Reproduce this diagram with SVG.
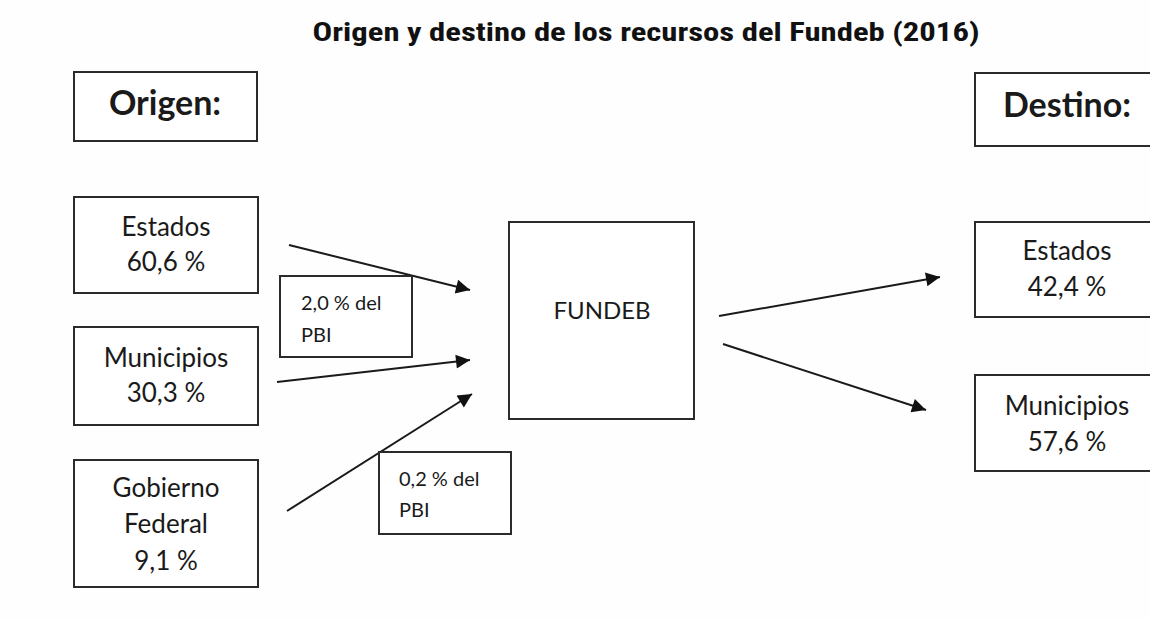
<svg xmlns="http://www.w3.org/2000/svg" width="1150" height="619" viewBox="0 0 1150 619">
<style>
.box{fill:#fff;stroke:#2b2b2b;stroke-width:2}
.t{font-family:Lato,"Open Sans","Liberation Sans",sans-serif;fill:#1a1a1a;text-anchor:middle}
.m{font-size:26px}
.s{font-size:20px;text-anchor:start}
.h{font-size:34px;font-weight:bold}
.ln{stroke:#1a1a1a;stroke-width:2;fill:none;marker-end:url(#ah)}
</style>
<defs>
<marker id="ah" viewBox="0 0 10 10" refX="10" refY="5" markerUnits="userSpaceOnUse" markerWidth="18" markerHeight="14" orient="auto">
<path d="M0,0 L10,5 L0,10 z" fill="#111"/>
</marker>
</defs>
<rect width="1150" height="619" fill="#fefefe"/>
<text x="646" y="41" font-family="'Roboto Condensed',Roboto,'Liberation Sans Narrow','Liberation Sans',sans-serif" font-weight="bold" font-size="25" fill="#111" text-anchor="middle" textLength="667" lengthAdjust="spacingAndGlyphs">Origen y destino de los recursos del Fundeb (2016)</text>
<g id="origen"><rect class="box" x="74" y="72" width="183" height="69"/><text class="t h" x="165" y="115">Origen:</text></g>
<g id="destino"><rect class="box" x="975" y="73" width="190" height="73"/><text class="t h" x="1067" y="117">Destino:</text></g>
<g id="estados"><rect class="box" x="74" y="197" width="184" height="96"/><text class="t m" x="166" y="236">Estados</text><text class="t m" x="166" y="271">60,6 %</text></g>
<g id="municipios"><rect class="box" x="74" y="327" width="184" height="98"/><text class="t m" x="166" y="367">Municipios</text><text class="t m" x="166" y="402">30,3 %</text></g>
<g id="gobierno"><rect class="box" x="74" y="460" width="184" height="127"/><text class="t m" x="166" y="497">Gobierno</text><text class="t m" x="166" y="533">Federal</text><text class="t m" x="166" y="570">9,1 %</text></g>
<g id="fundeb"><rect class="box" x="509" y="222" width="185" height="197"/><text class="t" font-size="24" x="602" y="319">FUNDEB</text></g>
<g id="dest-estados"><rect class="box" x="975" y="222" width="190" height="95"/><text class="t m" x="1067" y="260">Estados</text><text class="t m" x="1067" y="296">42,4 %</text></g>
<g id="dest-municipios"><rect class="box" x="975" y="375" width="190" height="96"/><text class="t m" x="1067" y="415">Municipios</text><text class="t m" x="1067" y="451">57,6 %</text></g>
<g id="connectors">
<line class="ln" x1="289" y1="245" x2="470" y2="290"/>
<line class="ln" x1="277" y1="382" x2="470" y2="360"/>
<line class="ln" x1="287" y1="511" x2="472" y2="394"/>
<line class="ln" x1="719" y1="316" x2="940" y2="277"/>
<line class="ln" x1="723" y1="344" x2="926" y2="410"/>
</g>
<g id="pbi-1"><rect class="box" x="280" y="276" width="132" height="81"/><text class="t s" x="301" y="310">2,0 % del</text><text class="t s" x="301" y="342">PBI</text></g>
<g id="pbi-2"><rect class="box" x="379" y="452" width="132" height="82"/><text class="t s" x="399" y="486">0,2 % del</text><text class="t s" x="399" y="517">PBI</text></g>
</svg>
